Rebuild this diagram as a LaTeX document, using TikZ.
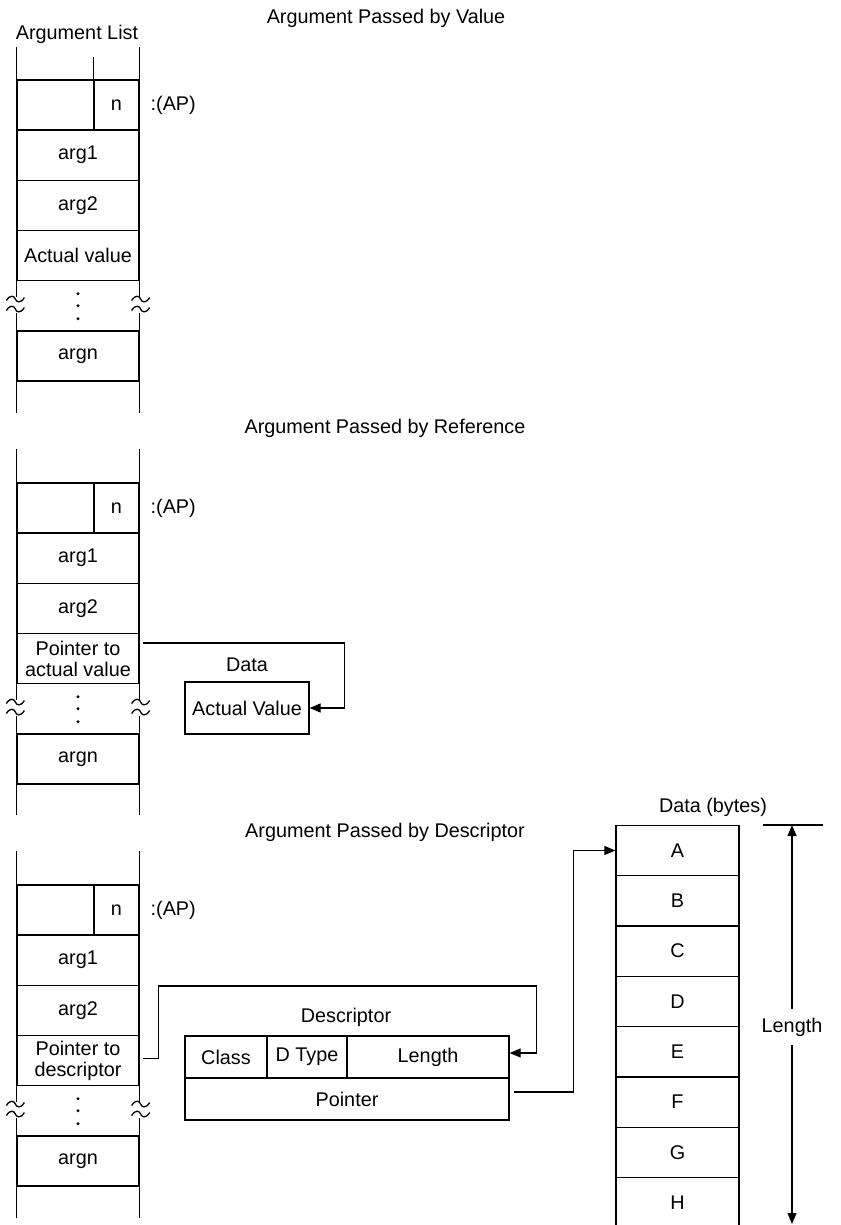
\documentclass[tikz,border=0pt]{standalone}
\usepackage{fontspec}
\setmainfont{Liberation Sans}
\usetikzlibrary{arrows.meta}

\tikzset{
	brk/.pic={
		\draw (-9,1.5) .. controls (-5,-5) and (-1,-3) .. (0,0) .. controls (1,3) and (5,5) .. (9,-1.5);
		\draw (-9,11.5) .. controls (-5,5) and (-1,7) .. (0,10) .. controls (1,13) and (5,15) .. (9,8.5);
	}
}

\begin{document}
\begin{tikzpicture}[x=0.5pt, y=-0.5pt, line width=0.65pt,
	every node/.style={font=\fontsize{9.9}{10.5}\selectfont, inner sep=0pt, align=center},
	cell/.style={draw, rectangle, minimum width=61pt, minimum height=25.1pt},
	ncell/.style={cell, minimum width=22.5pt},
	dcell/.style={draw, rectangle, minimum height=21pt},
	bytecell/.style={draw, rectangle, minimum width=61.5pt, minimum height=25.15pt},
	ptr/.style={-{Triangle[length=5.5pt,width=4.5pt]}}]

\useasboundingbox (0,0) rectangle (840,1225);

	%Titles
	\node (title_v) at (386,18) {Argument Passed by Value};
	\node (list_v) at (77,34) {Argument List};
	\node (title_r) at (385,428) {Argument Passed by Reference};
	\node (title_d) at (385,832) {Argument Passed by Descriptor};

	%Stack 1
	\node[cell] (row_v) at (78,105) {};
	\node[ncell] (n_v) at (116.5,105) {n};
	\node[anchor=west] (ap_v) at (150,105) {:(AP)};
	\node[cell] (arg1_v) at (78,155.2) {arg1};
	\node[cell] (arg2_v) at (78,205.4) {arg2};
	\node[cell] (val_v) at (78,255.6) {Actual value};
	\node[cell, draw=none] (gap_v) at (78,305.8) {};
	\node[cell] (argn_v) at (78,356) {argn};

	\draw (row_v.north west) -- ++(0,-32) (row_v.north east) -- ++(0,-32);
	\draw (n_v.north west) -- ++(0,-22);
	\draw (gap_v.north west) -- ++(0,17) (gap_v.south west) -- ++(0,-19);
	\draw (gap_v.north east) -- ++(0,17) (gap_v.south east) -- ++(0,-19);
	\pic at ([shift={(-1,19)}]gap_v.north west) {brk};
	\pic at ([shift={(1,19)}]gap_v.north east) {brk};
	\fill (gap_v.center) circle (1.6) ++(0,-12) circle (1.6) ++(0,25) circle (1.6);
	\draw (argn_v.south west) -- ++(0,31) (argn_v.south east) -- ++(0,31);

	%Stack 2
	\node[cell] (row_r) at (78,508) {};
	\node[ncell] (n_r) at (116.5,508) {n};
	\node[anchor=west] (ap_r) at (150,508) {:(AP)};
	\node[cell] (arg1_r) at (78,558.2) {arg1};
	\node[cell] (arg2_r) at (78,608.4) {arg2};
	\node[cell] (ptr_r) at (78,658.6) {Pointer to\\actual value};
	\node[cell, draw=none] (gap_r) at (78,708.8) {};
	\node[cell] (argn_r) at (78,759) {argn};

	\draw (row_r.north west) -- ++(0,-33) (row_r.north east) -- ++(0,-33);
	\draw (gap_r.north west) -- ++(0,17) (gap_r.south west) -- ++(0,-19);
	\draw (gap_r.north east) -- ++(0,17) (gap_r.south east) -- ++(0,-19);
	\pic at ([shift={(-1,19)}]gap_r.north west) {brk};
	\pic at ([shift={(1,19)}]gap_r.north east) {brk};
	\fill (gap_r.center) circle (1.6) ++(0,-12) circle (1.6) ++(0,25) circle (1.6);
	\draw (argn_r.south west) -- ++(0,30) (argn_r.south east) -- ++(0,30);

	\node (datalbl_r) at (247,665) {Data};
	\node[draw, minimum width=62pt, minimum height=26pt] (actval) at (247,708) {Actual Value};
	\draw[ptr] ([shift={(3,-15.6)}]ptr_r.east) -| ([shift={(35,0)}]actval.east) -- (actval.east);

	%Stack 3
	\node[cell] (row_d) at (78,910) {};
	\node[ncell] (n_d) at (116.5,910) {n};
	\node[anchor=west] (ap_d) at (150,910) {:(AP)};
	\node[cell] (arg1_d) at (78,960.2) {arg1};
	\node[cell] (arg2_d) at (78,1010.4) {arg2};
	\node[cell] (ptr_d) at (78,1060.6) {Pointer to\\descriptor};
	\node[cell, draw=none] (gap_d) at (78,1110.8) {};
	\node[cell] (argn_d) at (78,1161) {argn};

	\draw (row_d.north west) -- ++(0,-33) (row_d.north east) -- ++(0,-33);
	\draw (gap_d.north west) -- ++(0,17) (gap_d.south west) -- ++(0,-19);
	\draw (gap_d.north east) -- ++(0,17) (gap_d.south east) -- ++(0,-19);
	\pic at ([shift={(-1,19)}]gap_d.north west) {brk};
	\pic at ([shift={(1,19)}]gap_d.north east) {brk};
	\fill (gap_d.center) circle (1.6) ++(0,-12) circle (1.6) ++(0,25) circle (1.6);
	\draw (argn_d.south west) -- ++(0,31) (argn_d.south east) -- ++(0,31);

	%Descriptor
	\node (desclbl) at (346,1017) {Descriptor};
	\node[dcell, minimum width=41pt] (class) at (226,1057) {Class};
	\node[dcell, minimum width=40pt] (dtype) at (307,1057) {D Type};
	\node[dcell, minimum width=81pt] (len) at (428,1057) {Length};
	\node[dcell, minimum width=162pt] (ptrd) at (347,1099) {Pointer};
	\draw[ptr] ([shift={(3,-2)}]ptr_d.east) -- ++(16,0) |- ([shift={(27,-71)}]len.east) |- ([shift={(0,-4)}]len.east);

	%Data bytes
	\node (datalbl_d) at (713,807) {Data (bytes)};
	\node[bytecell] (A) at (677.5,850.5) {A};
	\node[bytecell] (B) at (677.5,900.8) {B};
	\node[bytecell] (C) at (677.5,951.1) {C};
	\node[bytecell] (D) at (677.5,1001.4) {D};
	\node[bytecell] (E) at (677.5,1051.7) {E};
	\node[bytecell] (F) at (677.5,1102.0) {F};
	\node[bytecell] (G) at (677.5,1152.3) {G};
	\node[bytecell] (H) at (677.5,1202.6) {H};
	\draw[ptr] ([shift={(4,-7)}]ptrd.east) -| ([shift={(-42,0)}]A.west) -- (A.west);

	%Length
	\coordinate (lentop) at (792,825);
	\coordinate (lenbot) at (792,1224);
	\node[minimum height=17.5pt, inner xsep=2pt] (lenlbl) at (792,1027) {Length};
	\draw ([shift={(-29,0)}]lentop) -- ([shift={(31,0)}]lentop);
	\draw[ptr] (lenlbl) -- (lentop);
	\draw[ptr] (lenlbl) -- (lenbot);

\end{tikzpicture}
\end{document}
